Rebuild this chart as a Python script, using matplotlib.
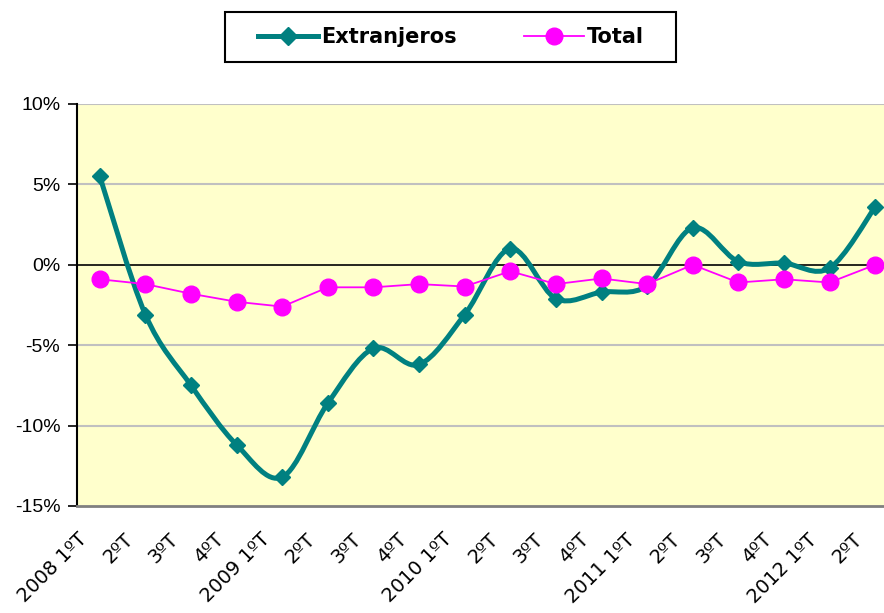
import numpy as np
import matplotlib
matplotlib.use('Agg')
import matplotlib.pyplot as plt
import matplotlib.transforms as mtransforms
from matplotlib.path import Path
from matplotlib.patches import PathPatch, Rectangle
from matplotlib.ticker import FuncFormatter

# quarters
quarters = ['2008 1ºT', '2ºT', '3ºT', '4ºT',
            '2009 1ºT', '2ºT', '3ºT', '4ºT',
            '2010 1ºT', '2ºT', '3ºT', '4ºT',
            '2011 1ºT', '2ºT', '3ºT', '4ºT',
            '2012 1ºT', '2ºT']

# year-on-year variation (%)
extranjeros = [5.5, -3.1, -7.5, -11.2, -13.2, -8.6, -5.2, -6.2,
               -3.1, 1.0, -2.1, -1.7, -1.3, 2.3, 0.2, 0.1, -0.2, 3.6]
total = [-0.9, -1.2, -1.8, -2.3, -2.6, -1.4, -1.4, -1.2,
         -1.35, -0.4, -1.2, -0.85, -1.2, 0.0, -1.1, -0.9, -1.1, 0.0]

teal = '#008080'
magenta = '#FF00FF'


def smooth_path(x, y):
    # Excel-like smoothed line: cubic bezier segments (Catmull-Rom control points)
    pts = np.column_stack([x, y]).astype(float)
    n = len(pts)
    verts = [pts[0]]
    codes = [Path.MOVETO]
    for i in range(n - 1):
        p0 = pts[max(i - 1, 0)]
        p1 = pts[i]
        p2 = pts[i + 1]
        p3 = pts[min(i + 2, n - 1)]
        c1 = p1 + (p2 - p0) / 6.0
        c2 = p2 - (p3 - p1) / 6.0
        verts += [c1, c2, p2]
        codes += [Path.CURVE4] * 3
    return Path(verts, codes)


fig = plt.figure(figsize=(8.84, 6.13), dpi=100)
ax = fig.add_axes([77 / 884, 107 / 613, 821 / 884, 402 / 613])
ax.set_facecolor('#FFFFCC')

x = np.arange(len(quarters))

# grid
for v in [-10, -5, 5, 10]:
    ax.axhline(v, color='#C0C0C0', lw=1.5, zorder=1)
ax.axhline(0, color='black', lw=1.2, zorder=2)

# Extranjeros: smoothed thick teal line with diamonds
patch = PathPatch(smooth_path(x, extranjeros), facecolor='none',
                  edgecolor=teal, lw=3.6, zorder=3, capstyle='round',
                  joinstyle='round')
ax.add_patch(patch)
ax.plot(x, extranjeros, linestyle='none', marker='D', color=teal,
        markersize=8, zorder=4)
# legend proxy
h1, = ax.plot([], [], color=teal, lw=3.6, marker='D', markersize=9,
              label='Extranjeros')

h2, = ax.plot(x, total, color=magenta, lw=1.3, marker='o', markersize=12,
              zorder=5, label='Total')

ax.set_xlim(-0.5, len(quarters) - 0.5)
ax.set_ylim(-15, 10)
ax.set_yticks([-15, -10, -5, 0, 5, 10])
ax.yaxis.set_major_formatter(FuncFormatter(lambda v, p: '{:d}%'.format(int(v))))
for lab in ax.get_yticklabels():
    lab.set_fontfamily('Liberation Sans')
    lab.set_fontsize(14)
ax.tick_params(axis='y', direction='out', length=6.5, width=1.2, pad=5.5)

ax.set_xticks(x)
ax.set_xticklabels(quarters, rotation=45, ha='right', va='top',
                   rotation_mode='anchor', fontsize=14,
                   fontfamily='DejaVu Sans')
ax.tick_params(axis='x', length=0, pad=10)
offset = mtransforms.ScaledTranslation(-22 / 100, -10 / 100, fig.dpi_scale_trans)
for lab in ax.get_xticklabels():
    lab.set_transform(lab.get_transform() + offset)

for s in ['top', 'right']:
    ax.spines[s].set_visible(False)
ax.spines['left'].set_linewidth(1.5)
ax.spines['bottom'].set_color('#808080')
ax.spines['bottom'].set_linewidth(2)

# legend box at the top
fig.patches.append(Rectangle((225 / 884, 1 - 62 / 613), 451 / 884, 50 / 613,
                             transform=fig.transFigure, facecolor='white',
                             edgecolor='black', lw=1.5, zorder=0))
leg = fig.legend(handles=[h1, h2], loc='center', ncol=2,
                 bbox_to_anchor=(451 / 884, 1 - 37 / 613),
                 prop={'family': 'DejaVu Sans', 'weight': 'bold', 'size': 15},
                 handlelength=2.9, columnspacing=3.2, handletextpad=0.15,
                 frameon=False)

fig.savefig('out.png', dpi=100)
